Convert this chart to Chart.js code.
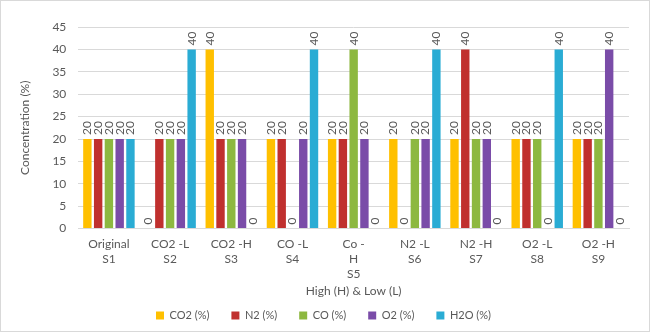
<!DOCTYPE html>
<html>
<head>
<meta charset="utf-8">
<script src="https://cdn.jsdelivr.net/npm/chart.js@4/dist/chart.umd.min.js"></script>
<style>
html,body{margin:0;padding:0;background:#fff;}
#wrap{position:absolute;left:0;top:0;width:648px;height:330px;border:1px solid #d9d9d9;background:#fff;}
canvas{display:block;}
</style>
</head>
<body>
<div id="wrap"><canvas id="c" width="648" height="330"></canvas></div>
<script>
const categories = [
  ["Original","S1"], ["CO2 -L","S2"], ["CO2 -H","S3"], ["CO -L","S4"],
  ["Co -","H","S5"], ["N2 -L","S6"], ["N2 -H","S7"], ["O2 -L","S8"], ["O2 -H","S9"]
];
const co2 = [20, 0, 40, 20, 20, 20, 20, 20, 20];
const n2  = [20, 20, 20, 20, 20, 0, 40, 20, 20];
const co  = [20, 20, 20, 0, 40, 20, 20, 20, 20];
const o2  = [20, 20, 20, 20, 20, 20, 20, 0, 40];
const h2o = [20, 40, 0, 40, 0, 40, 0, 40, 0];
const seriesNames = ["CO2 (%)", "N2 (%)", "CO (%)", "O2 (%)", "H2O (%)"];
const seriesColors = ["#FFC000", "#C0302E", "#8DB840", "#7A4CA8", "#2AACD4"];
const yTicks = [0, 5, 10, 15, 20, 25, 30, 35, 40, 45];

const FONT = "Lato, 'Open Sans', sans-serif";
const TXT = "#595959";

const valueLabels = {
  id: 'valueLabels',
  afterDatasetsDraw(chart) {
    const ctx = chart.ctx;
    ctx.save();
    ctx.font = "12px " + FONT;
    ctx.fillStyle = TXT;
    ctx.textAlign = 'left';
    ctx.textBaseline = 'middle';
    chart.data.datasets.forEach((ds, i) => {
      const meta = chart.getDatasetMeta(i);
      meta.data.forEach((bar, j) => {
        ctx.save();
        ctx.translate(bar.x, bar.y - 4);
        ctx.rotate(-Math.PI / 2);
        ctx.fillText(String(ds.data[j]), 0, 0);
        ctx.restore();
      });
    });
    ctx.restore();
  }
};

const allSeries = [co2, n2, co, o2, h2o];
new Chart(document.getElementById('c'), {
  type: 'bar',
  data: {
    labels: categories,
    datasets: allSeries.map((d, i) => ({
      label: seriesNames[i],
      data: d,
      backgroundColor: seriesColors[i],
      borderWidth: 0,
      categoryPercentage: 0.88,
      barPercentage: 0.78
    }))
  },
  options: {
    responsive: false,
    animation: false,
    layout: { padding: { top: 26, right: 20, left: 17, bottom: 0 } },
    plugins: {
      legend: {
        position: 'bottom',
        labels: {
          font: { family: FONT, size: 11 },
          color: TXT,
          boxWidth: 8,
          boxHeight: 8,
          padding: 22
        }
      },
      tooltip: { enabled: false }
    },
    scales: {
      x: {
        grid: { display: false, drawTicks: false },
        border: { color: '#d9d9d9' },
        ticks: { font: { family: FONT, size: 12, lineHeight: 1.25 }, color: TXT, maxRotation: 0, autoSkip: false, padding: 8 },
        title: { display: true, text: 'High (H) & Low (L)', font: { family: FONT, size: 12 }, color: TXT, padding: { top: -6, bottom: -10 } }
      },
      y: {
        min: 0, max: 45,
        afterBuildTicks(axis) { axis.ticks = yTicks.map(v => ({ value: v })); },
        grid: { color: '#d9d9d9', drawTicks: false },
        border: { display: false },
        ticks: { font: { family: FONT, size: 12 }, color: TXT, padding: 12 },
        title: { display: true, text: 'Concentration (%)', font: { family: FONT, size: 12 }, color: TXT, padding: { top: 0, bottom: 8 } }
      }
    }
  },
  plugins: [valueLabels]
});
</script>
</body>
</html>
